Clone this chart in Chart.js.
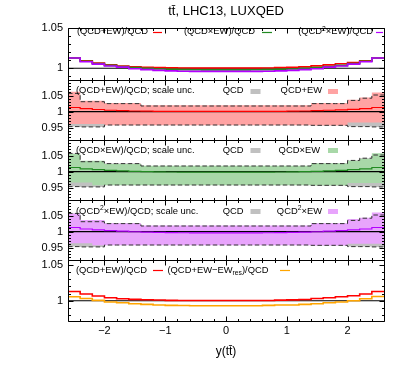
<!DOCTYPE html>
<html><head><meta charset="utf-8">
<script src="https://cdn.jsdelivr.net/npm/chart.js@4/dist/chart.umd.min.js"></script>
<style>
html,body{margin:0;padding:0;background:#fff;}
#wrap{position:relative;width:407px;height:368px;overflow:hidden;background:#fff;}
canvas{position:absolute;left:0;}
</style></head><body><div id="wrap">
<canvas id="c1" width="407" height="94" style="top:0px;width:407px;height:94px"></canvas>
<canvas id="c2" width="407" height="88" style="top:66px;width:407px;height:88px"></canvas>
<canvas id="c3" width="407" height="88" style="top:126px;width:407px;height:88px"></canvas>
<canvas id="c4" width="407" height="88" style="top:186px;width:407px;height:88px"></canvas>
<canvas id="c5" width="407" height="122" style="top:246px;width:407px;height:122px"></canvas>
</div>
<script>
// ---------------- data ----------------
const xEdges = [-2.6,-2.4,-2.2,-2.0,-1.8,-1.6,-1.4,-1.2,-1.0,-0.8,-0.6,-0.4,-0.2,0.0,0.2,0.4,0.6,0.8,1.0,1.2,1.4,1.6,1.8,2.0,2.2,2.4,2.6];

const ratioQCDplusEW = [1.0128,1.0093,1.0065,1.0042,1.0028,1.0019,1.0014,1.0009,1.0005,1.0004,1.0004,1.0004,1.0004,1.0004,1.0004,1.0004,1.0004,1.0008,1.0012,1.0018,1.0030,1.0042,1.0056,1.0070,1.0093,1.0128];
const ratioQCDxEW    = [1.0128,1.0088,1.0059,1.0036,1.0022,1.0008,0.9999,0.9992,0.9987,0.9984,0.9982,0.9981,0.9981,0.9981,0.9981,0.9982,0.9984,0.9987,0.9992,0.9999,1.0008,1.0022,1.0036,1.0059,1.0088,1.0128];
const ratioQCD2xEW   = [1.0128,1.0081,1.0052,1.0029,1.0015,0.9995,0.9984,0.9975,0.9968,0.9964,0.9962,0.9962,0.9962,0.9962,0.9962,0.9962,0.9964,0.9968,0.9975,0.9984,0.9995,1.0015,1.0029,1.0052,1.0081,1.0128];
const ratioNoEWres   = [1.0056,1.0032,1.0005,0.9981,0.9972,0.9958,0.9949,0.9940,0.9935,0.9932,0.9930,0.9930,0.9930,0.9929,0.9929,0.9929,0.9935,0.9940,0.9940,0.9949,0.9958,0.9972,0.9981,1.0000,1.0028,1.0060];

const qcdBandUp    = [1.057,1.031,1.031,1.025,1.025,1.025,1.0175,1.0175,1.0175,1.0175,1.0175,1.0175,1.0175,1.0175,1.0175,1.0175,1.0175,1.0175,1.0175,1.0175,1.025,1.025,1.025,1.035,1.042,1.052];
const qcdBandDown  = [0.953,0.952,0.952,0.958,0.958,0.958,0.958,0.958,0.958,0.958,0.958,0.958,0.958,0.958,0.958,0.958,0.958,0.958,0.958,0.958,0.957,0.957,0.957,0.953,0.953,0.952];
const plusBandUp   = [1.0625,1.034,1.034,1.027,1.027,1.027,1.0195,1.0195,1.0195,1.0195,1.0195,1.0195,1.0195,1.0195,1.0195,1.0195,1.0195,1.0195,1.0195,1.0195,1.027,1.027,1.027,1.037,1.044,1.060];
const plusBandDown = [0.961,0.961,0.961,0.9575,0.9575,0.9575,0.9575,0.9575,0.9575,0.9575,0.9575,0.9575,0.9575,0.9575,0.9575,0.9575,0.9575,0.9575,0.9575,0.9575,0.9565,0.9565,0.9565,0.9655,0.9655,0.9655];
const timesBandUp  = [1.055,1.034,1.034,1.024,1.024,1.024,1.018,1.018,1.018,1.018,1.018,1.018,1.018,1.018,1.018,1.018,1.018,1.018,1.018,1.018,1.026,1.026,1.026,1.034,1.040,1.0575];
const timesBandDown= [0.9656,0.9656,0.9575,0.9575,0.9575,0.9575,0.9575,0.9575,0.9575,0.9575,0.9575,0.9575,0.9575,0.9575,0.9575,0.9575,0.9575,0.9575,0.9575,0.9575,0.9565,0.9565,0.9565,0.964,0.964,0.964];
const sqBandUp     = [1.057,1.0366,1.0366,1.026,1.026,1.026,1.019,1.019,1.019,1.019,1.019,1.019,1.019,1.019,1.019,1.019,1.019,1.019,1.019,1.019,1.026,1.026,1.026,1.0396,1.043,1.060];
const sqBandDown   = [0.9635,0.9635,0.9575,0.9575,0.9575,0.9575,0.9575,0.9575,0.9575,0.9575,0.9575,0.9575,0.9575,0.9575,0.9575,0.9575,0.9575,0.9575,0.9575,0.9575,0.9565,0.9565,0.9565,0.9616,0.9616,0.9616];

const unityX = [-2.6, 2.6];
const unityY = [1, 1];
const xTickValues = [-2,-1,0,1,2];
const xTickLabels = ['\u22122','\u22121','0','1','2'];
const yTicksTop = [1, 1.05],        yLabelsTop = ['1','1.05'];
const yTicksMid = [0.95, 1, 1.05],  yLabelsMid = ['0.95','1','1.05'];
const yTicksBot = [1, 1.05],        yLabelsBot = ['1','1.05'];

// ---------------- style ----------------
const FONT = '"Liberation Sans", Arial, Helvetica, sans-serif';
const C = {red:'#ff0000', green:'#228b22', purple:'#b400ff', orange:'#ffa500',
  redBand:'#ffa3a3', greenBand:'#a8d8a8', purpleBand:'#e8a4fc', grayBand:'#c0c0c0', dash:'#333333'};

function stepPts(vals){ const p = vals.map((v,i)=>({x:xEdges[i], y:v})); p.push({x:xEdges[xEdges.length-1], y:vals[vals.length-1]}); return p; }
function linePts(xs, ys){ return xs.map((x,i)=>({x:x, y:ys[i]})); }
function stepDS(vals, color, width, order, extra){
  return Object.assign({data: stepPts(vals), borderColor: color, backgroundColor: color, borderWidth: width,
    pointRadius: 0, stepped: 'before', fill: false, order: order}, extra || {});
}
function unityDS(order){ return {data: linePts(unityX, unityY), borderColor:'#000', borderWidth:1.1, pointRadius:0, fill:false, order:order}; }

function framePlugin(o){
  return { id:'frame', afterDatasetsDraw(chart){
    const ctx = chart.ctx, a = chart.chartArea, xs = chart.scales.x, ys = chart.scales.y;
    const L = Math.round(a.left)+0.5, R = Math.round(a.right)+0.5, T = Math.round(a.top)+0.5, B = Math.round(a.bottom)+0.5;
    ctx.save(); ctx.strokeStyle = '#000'; ctx.lineWidth = 1; ctx.beginPath();
    for (let k = -13; k <= 13; k++) {
      const v = k*0.2; const major = (k % 5 === 0); const len = major ? 5 : 2.5;
      const px = Math.round(xs.getPixelForValue(v)) + 0.5;
      ctx.moveTo(px, B); ctx.lineTo(px, B - len);
      ctx.moveTo(px, T); ctx.lineTo(px, T + len);
    }
    for (let k = Math.ceil(o.ymin*100); k <= Math.floor(o.ymax*100); k++) {
      const v = k/100; const major = (k % 5 === 0); const len = major ? 5 : 2.5;
      const py = Math.round(ys.getPixelForValue(v)) + 0.5;
      ctx.moveTo(L, py); ctx.lineTo(L + len, py);
      ctx.moveTo(R, py); ctx.lineTo(R - len, py);
    }
    ctx.stroke();
    ctx.beginPath(); ctx.rect(L, T, R-L, B-T); ctx.stroke();
    ctx.restore();
  }};
}

function drawRich(ctx, segs, x, y, align, size){
  const parts = segs.map(s => typeof s === 'string' ? {t:s, sz:size, dy:0} :
    (s.sup ? {t:s.sup, sz:size*0.72, dy:-size*0.3} : {t:s.sub, sz:size*0.72, dy:size*0.3}));
  let total = 0;
  parts.forEach(p => { ctx.font = p.sz + 'px ' + FONT; p.w = ctx.measureText(p.t).width; total += p.w; });
  let cx = align === 'right' ? x - total : x;
  ctx.textBaseline = 'middle'; ctx.textAlign = 'left'; ctx.fillStyle = '#000';
  parts.forEach(p => { ctx.font = p.sz + 'px ' + FONT; ctx.fillText(p.t, cx, y + p.dy); cx += p.w; });
}

function keyPlugin(top, entries){
  return { id:'key', afterDraw(chart){
    const ctx = chart.ctx; ctx.save();
    entries.forEach(e => {
      const y = e.y - top;
      drawRich(ctx, e.segs, e.x, y, e.align, 9.4);
      if (e.sample) {
        const s = e.sample;
        if (s.kind === 'line') { ctx.strokeStyle = s.color; ctx.lineWidth = 1.2; ctx.beginPath(); ctx.moveTo(s.x0, Math.round(y)+0.5); ctx.lineTo(s.x1, Math.round(y)+0.5); ctx.stroke(); }
        else { ctx.fillStyle = s.color; ctx.fillRect(s.x0, Math.round(y) - 2, s.x1 - s.x0, 5); }
      }
    });
    ctx.restore();
  }};
}

function makeChart(id, top, datasets, o, entries){
  const yScale = {
    type:'linear', min:o.ymin, max:o.ymax,
    afterBuildTicks: ax => { ax.ticks = o.yTicks.map(v => ({value:v})); },
    afterFit: ax => { ax.width = 68; },
    ticks: {callback: (v, i) => o.yLabels[i], font:{family:FONT, size:11}, color:'#000', padding:5, autoSkip:false},
    grid: {display:false, drawTicks:false}, border: {display:false}
  };
  let xScale = {type:'linear', min:-2.6, max:2.6, display:false};
  if (o.showX) {
    xScale = {type:'linear', min:-2.6, max:2.6, position:'bottom',
      afterBuildTicks: ax => { ax.ticks = xTickValues.map(v => ({value:v})); },
      afterFit: ax => { ax.height = 47; },
      ticks: {callback: (v, i) => xTickLabels[i], font:{family:FONT, size:11}, color:'#000', padding:3.4, autoSkip:false, maxRotation:0, minRotation:0},
      grid: {display:false, drawTicks:false}, border: {display:false},
      title: {display:true, text:'y(tt\u0304)', font:{family:FONT, size:12}, color:'#000', padding:{top:0, bottom:9}}
    };
  }
  return new Chart(document.getElementById(id), {
    type:'line',
    data:{datasets: datasets},
    plugins:[framePlugin(o), keyPlugin(top, entries)],
    options:{
      responsive:false, animation:false, devicePixelRatio:1,
      layout:{padding:{left:0, right:23, top:o.padTop, bottom:o.padBottom}},
      plugins:{
        legend:{display:false}, tooltip:{enabled:false},
        filler:{drawTime:'beforeDatasetsDraw'},
        title: o.title ? {display:true, text:o.title, fullSize:false, font:{family:FONT, size:13, weight:'normal'}, color:'#000', padding:{top:4, bottom:8.4}} : {display:false}
      },
      scales:{x:xScale, y:yScale}
    }
  });
}

// Panel 1: ratios
makeChart('c1', 0, [
  stepDS(ratioQCD2xEW, C.purple, 1.6, 0),
  stepDS(ratioQCDxEW, C.green, 1.6, 1),
  stepDS(ratioQCDplusEW, C.red, 1.6, 2),
  unityDS(3)
], {ymin:0.9855, ymax:1.05, yTicks:yTicksTop, yLabels:yLabelsTop, padTop:0, padBottom:14, title:'tt\u0304, LHC13, LUXQED'}, [
  {segs:['(QCD+EW)/QCD'], x:148, y:31.5, align:'right', sample:{kind:'line', x0:153, x1:162, color:C.red}},
  {segs:['(QCD\u00d7EW)/QCD'], x:255, y:31.5, align:'right', sample:{kind:'line', x0:262, x1:272, color:C.green}},
  {segs:['(QCD',{sup:'2'},'\u00d7EW)/QCD'], x:373, y:31.5, align:'right', sample:{kind:'line', x0:376, x1:383, color:C.purple}}
]);

function bandPanel(id, top, center, color, bandUp, bandDown, bandColor, entries){
  return makeChart(id, top, [
    stepDS(center, color, 1.2, 0),
    unityDS(1),
    stepDS(qcdBandUp, C.dash, 1, 3, {fill:3, backgroundColor:C.grayBand, borderDash:[4.5,2.5]}),
    stepDS(qcdBandDown, C.dash, 1, 3, {borderDash:[4.5,2.5]}),
    stepDS(bandUp, 'rgba(0,0,0,0)', 0, 2, {fill:5, backgroundColor:bandColor}),
    stepDS(bandDown, 'rgba(0,0,0,0)', 0, 2)
  ], {ymin:0.911, ymax:1.099, yTicks:yTicksMid, yLabels:yLabelsMid, padTop:14, padBottom:14}, entries);
}

bandPanel('c2', 66, ratioQCDplusEW, C.red, plusBandUp, plusBandDown, C.redBand, [
  {segs:['(QCD+EW)/QCD; scale unc.'], x:76, y:90.5, align:'left'},
  {segs:['QCD'], x:243.5, y:90.5, align:'right', sample:{kind:'box', x0:250.5, x1:260.5, color:C.grayBand}},
  {segs:['QCD+EW'], x:322, y:90.5, align:'right', sample:{kind:'box', x0:328, x1:338, color:C.redBand}}
]);
bandPanel('c3', 126, ratioQCDxEW, C.green, timesBandUp, timesBandDown, C.greenBand, [
  {segs:['(QCD\u00d7EW)/QCD; scale unc.'], x:76, y:150.3, align:'left'},
  {segs:['QCD'], x:243.5, y:150.3, align:'right', sample:{kind:'box', x0:250.5, x1:260.5, color:C.grayBand}},
  {segs:['QCD\u00d7EW'], x:320, y:150.3, align:'right', sample:{kind:'box', x0:328, x1:338, color:C.greenBand}}
]);
bandPanel('c4', 186, ratioQCD2xEW, C.purple, sqBandUp, sqBandDown, C.purpleBand, [
  {segs:['(QCD',{sup:'2'},'\u00d7EW)/QCD; scale unc.'], x:76, y:211, align:'left'},
  {segs:['QCD'], x:243.5, y:211, align:'right', sample:{kind:'box', x0:250.5, x1:260.5, color:C.grayBand}},
  {segs:['QCD',{sup:'2'},'\u00d7EW'], x:322, y:211, align:'right', sample:{kind:'box', x0:328, x1:338, color:C.purpleBand}}
]);

// Panel 5
makeChart('c5', 246, [
  stepDS(ratioQCDplusEW, C.red, 1.6, 0),
  stepDS(ratioNoEWres, C.orange, 1.6, 1),
  unityDS(2)
], {ymin:0.9716, ymax:1.057, yTicks:yTicksBot, yLabels:yLabelsBot, padTop:14, padBottom:0, showX:true}, [
  {segs:['(QCD+EW)/QCD'], x:147, y:270, align:'right', sample:{kind:'line', x0:153, x1:163, color:C.red}},
  {segs:['(QCD+EW\u2212EW',{sub:'res'},')/QCD'], x:268.5, y:270, align:'right', sample:{kind:'line', x0:280, x1:290, color:C.orange}}
]);
</script></body></html>
